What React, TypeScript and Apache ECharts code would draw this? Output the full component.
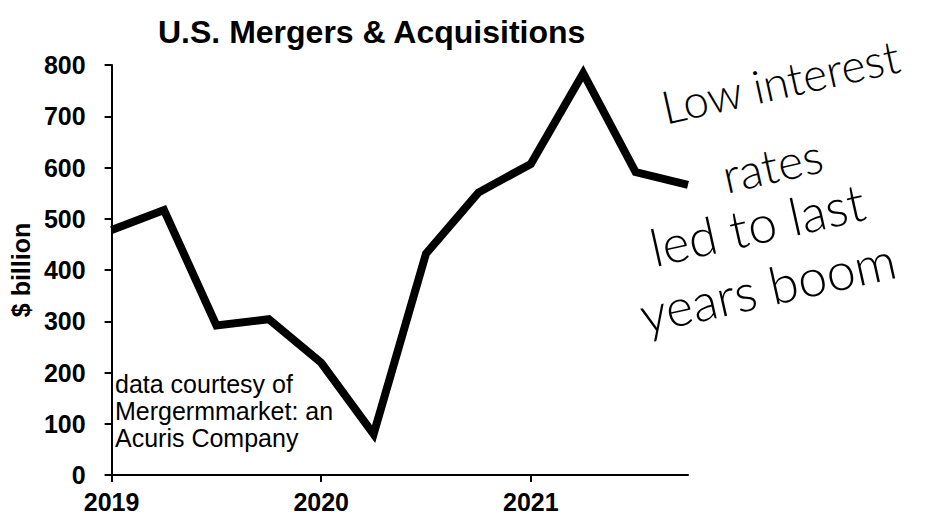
import React, { useEffect, useRef } from "react";
import * as echarts from "echarts";

const title = "U.S. Mergers & Acquisitions";
const yAxisName = "$ billion";
const quarters = [
  "2019 Q1", "2019 Q2", "2019 Q3", "2019 Q4",
  "2020 Q1", "2020 Q2", "2020 Q3", "2020 Q4",
  "2021 Q1", "2021 Q2", "2021 Q3", "2021 Q4",
];
const dealValues = [478, 517, 292, 304, 219, 80, 432, 551, 607, 784, 591, 566];
const yTicks = { min: 0, max: 800, interval: 100 };
const creditLines = ["data courtesy of", "Mergermmarket: an", "Acuris Company"];
const noteLines = ["Low interest", "rates", "led to last", "years boom"];

const FONT = "'Liberation Sans', Arial, Helvetica, sans-serif";
const HAND = "Lato, 'Open Sans', sans-serif";

export default function App() {
  const ref = useRef<HTMLDivElement>(null);
  useEffect(() => {
    document.body.style.margin = "0";
    const chart = echarts.init(ref.current!, null, { renderer: "svg" });
    const notePos = [
      { x: 667, y: 130, size: 46 },
      { x: 728, y: 199, size: 48 },
      { x: 656, y: 273, size: 52 },
      { x: 646, y: 340, size: 52 },
    ];
    chart.setOption({
      animation: false,
      backgroundColor: "#ffffff",
      title: {
        text: title,
        left: 153,
        top: 11,
        textStyle: { fontFamily: FONT, fontSize: 32, fontWeight: "bold", color: "#000" },
      },
      grid: { left: 109, right: 255, top: 65, bottom: 45, containLabel: false },
      xAxis: {
        type: "category",
        data: quarters,
        boundaryGap: false,
        axisLine: { show: true, lineStyle: { color: "#000", width: 2 } },
        axisTick: {
          show: true,
          length: 7,
          interval: (i: number) => i % 4 === 0,
          lineStyle: { color: "#000", width: 2 },
        },
        axisLabel: {
          interval: (i: number) => i % 4 === 0,
          formatter: (v: string) => v.slice(0, 4),
          margin: 14,
          fontFamily: FONT,
          fontSize: 25,
          fontWeight: "bold",
          color: "#000",
        },
        splitLine: { show: false },
      },
      yAxis: {
        type: "value",
        min: yTicks.min,
        max: yTicks.max,
        interval: yTicks.interval,
        name: yAxisName,
        nameLocation: "middle",
        nameGap: 78,
        nameTextStyle: { fontFamily: FONT, fontSize: 25, fontWeight: "bold", color: "#000" },
        axisLine: { show: true, lineStyle: { color: "#000", width: 2 } },
        axisTick: { show: true, length: 7, lineStyle: { color: "#000", width: 2 } },
        axisLabel: {
          margin: 26,
          fontFamily: FONT,
          fontSize: 25,
          fontWeight: "bold",
          color: "#000",
        },
        splitLine: { show: false },
      },
      series: [
        {
          type: "line",
          data: dealValues,
          showSymbol: false,
          symbol: "none",
          lineStyle: { color: "#000", width: 8, join: "miter", cap: "butt" },
        },
      ],
      graphic: [
        ...creditLines.map((t, i) => ({
          type: "text",
          left: 115,
          top: 371 + i * 27,
          style: {
            text: t,
            fontFamily: FONT,
            fontSize: 25,
            fill: "#000",
          },
        })),
        ...noteLines.map((t, i) => ({
          type: "text",
          x: notePos[i].x,
          y: notePos[i].y,
          rotation: 0.22,
          style: {
            text: t,
            fontFamily: HAND,
            fontSize: notePos[i].size,
            fontWeight: 300,
            fill: "#000",
            verticalAlign: "bottom",
            align: "left",
          },
        })),
      ],
    });
    return () => chart.dispose();
  }, []);
  return <div ref={ref} style={{ width: 943, height: 520 }} />;
}
